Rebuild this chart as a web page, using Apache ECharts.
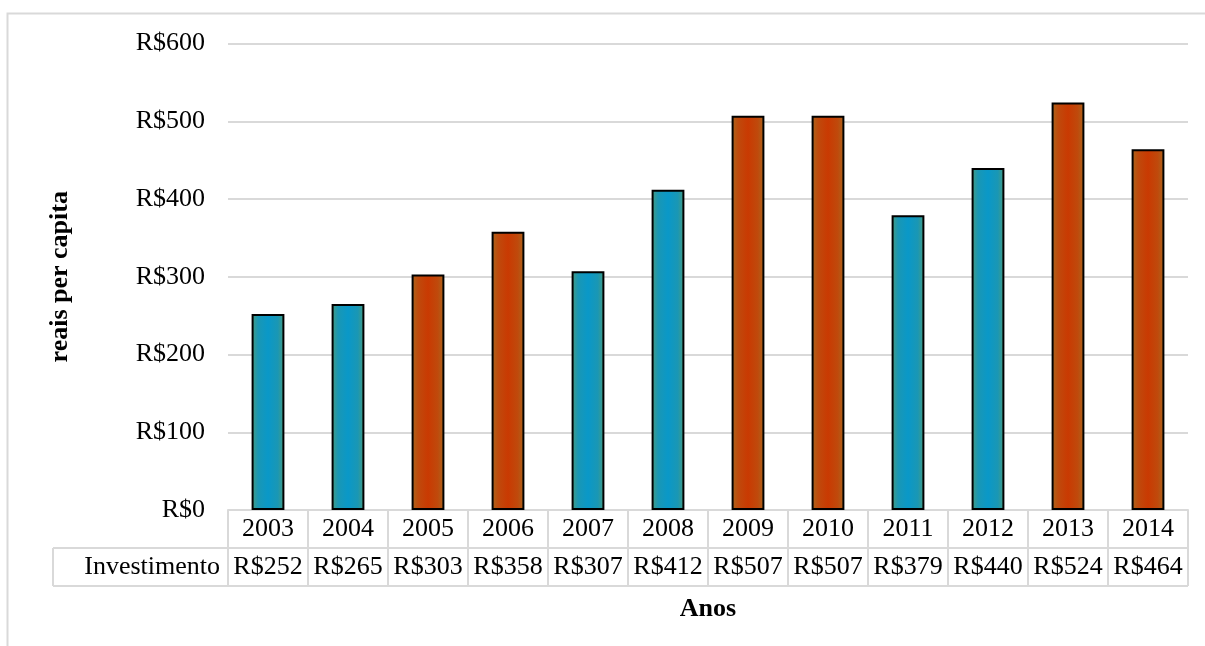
<!DOCTYPE html>
<html>
<head>
<meta charset="utf-8">
<title>Investimento per capita</title>
<script src="https://cdn.jsdelivr.net/npm/echarts@6/dist/echarts.min.js"></script>
<style>
  html, body { margin: 0; padding: 0; background: #ffffff; }
  #chart { width: 1205px; height: 646px; }
</style>
</head>
<body>
<div id="chart"></div>
<script>
// Yearly investment in reais per capita
const years = ['2003', '2004', '2005', '2006', '2007', '2008', '2009', '2010', '2011', '2012', '2013', '2014'];
const investimento = [252, 265, 303, 358, 307, 412, 507, 507, 379, 440, 524, 464];
// colour group per year: 'azul' or 'laranja'
const grupos = ['azul', 'azul', 'laranja', 'laranja', 'azul', 'azul', 'laranja', 'laranja', 'azul', 'azul', 'laranja', 'laranja'];
const yTicks = [0, 100, 200, 300, 400, 500, 600];
const rowLabel = 'Investimento';

const FONT = 'Liberation Serif';
const GRID_LINE = '#d9d9d9';

// plot rectangle
const G = { left: 228, right: 17, top: 43.5, bottom: 136 };
const W = 1205, H = 646;
const plotRight = W - G.right;
const plotBottom = H - G.bottom;
const rowH = 38;
const labelCellLeft = 53;

function fmt(v) { return 'R$' + v; }

function barGradient(grupo) {
  const c = grupo === 'azul'
    ? { edge: '#4a9c7c', mid: '#1a97b4', center: '#0a98c8' }
    : { edge: '#a8681e', mid: '#bf4a0c', center: '#c93a02' };
  return {
    type: 'linear', x: 0, y: 0, x2: 1, y2: 0,
    colorStops: [
      { offset: 0, color: c.edge },
      { offset: 0.2, color: c.mid },
      { offset: 0.5, color: c.center },
      { offset: 0.8, color: c.mid },
      { offset: 1, color: c.edge }
    ]
  };
}

const chart = echarts.init(document.getElementById('chart'), null, { renderer: 'canvas' });

const tableLines = [
  // middle and bottom horizontal rules of the data table
  { type: 'line', shape: { x1: labelCellLeft, y1: plotBottom + rowH, x2: plotRight, y2: plotBottom + rowH } },
  { type: 'line', shape: { x1: labelCellLeft, y1: plotBottom + 2 * rowH, x2: plotRight, y2: plotBottom + 2 * rowH } },
  // left edge of the row label cell
  { type: 'line', shape: { x1: labelCellLeft, y1: plotBottom + rowH, x2: labelCellLeft, y2: plotBottom + 2 * rowH } }
].map(l => Object.assign(l, { silent: true, style: { stroke: GRID_LINE, lineWidth: 2 } }));

const tableLabel = {
  color: '#000', fontFamily: FONT, fontSize: 26, margin: 19,
  verticalAlign: 'middle', interval: 0, hideOverlap: false
};

chart.setOption({
  animation: false,
  backgroundColor: '#ffffff',
  textStyle: { fontFamily: FONT },
  grid: { left: G.left, right: G.right, top: G.top, bottom: G.bottom, containLabel: false },
  xAxis: [
    {
      type: 'category',
      data: years,
      boundaryGap: true,
      axisLine: { show: true, lineStyle: { color: GRID_LINE, width: 2 } },
      axisTick: { show: true, interval: 0, length: 2 * rowH, lineStyle: { color: GRID_LINE, width: 2 } },
      axisLabel: Object.assign({}, tableLabel),
      name: 'Anos',
      nameLocation: 'middle',
      nameGap: 86,
      nameTextStyle: { color: '#000', fontFamily: FONT, fontSize: 26, fontWeight: 'bold' }
    },
    {
      type: 'category',
      data: years,
      position: 'bottom',
      offset: rowH,
      boundaryGap: true,
      axisLine: { show: false },
      axisTick: { show: false },
      axisLabel: Object.assign({}, tableLabel, {
        formatter: (v, i) => fmt(investimento[i])
      })
    }
  ],
  yAxis: {
    type: 'value',
    min: yTicks[0],
    max: yTicks[yTicks.length - 1],
    interval: yTicks[1] - yTicks[0],
    axisLine: { show: false },
    axisTick: { show: false },
    splitLine: { lineStyle: { color: GRID_LINE, width: 2 } },
    axisLabel: { color: '#000', fontFamily: FONT, fontSize: 26, margin: 23, formatter: v => fmt(v) },
    name: 'reais per capita',
    nameLocation: 'middle',
    nameRotate: 90,
    nameGap: 155,
    nameTextStyle: { color: '#000', fontFamily: FONT, fontSize: 26, fontWeight: 'bold' }
  },
  series: [{
    type: 'bar',
    xAxisIndex: 0,
    barWidth: '41%',
    data: investimento.map((v, i) => ({
      value: v,
      itemStyle: { color: barGradient(grupos[i]), borderColor: '#000', borderWidth: 2 }
    }))
  }],
  graphic: [
    {
      type: 'rect', silent: true, z: -1,
      shape: { x: 7.5, y: 13.5, width: W + 20, height: H + 20 },
      style: { fill: null, stroke: GRID_LINE, lineWidth: 2 }
    },
    ...tableLines,
    {
      type: 'text', silent: true,
      style: {
        text: rowLabel, x: G.left - 8, y: plotBottom + 1.5 * rowH,
        align: 'right', verticalAlign: 'middle',
        font: '26px "' + FONT + '"', fill: '#000'
      }
    }
  ]
});
</script>
</body>
</html>
